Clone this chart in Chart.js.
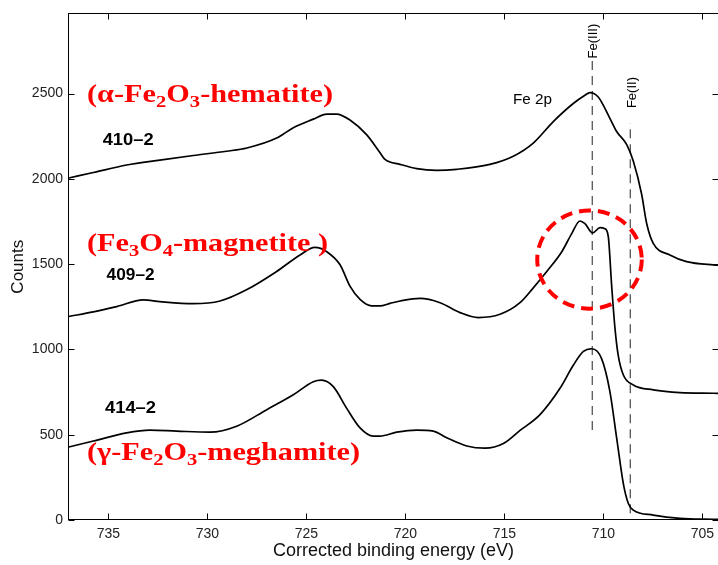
<!DOCTYPE html>
<html>
<head>
<meta charset="utf-8">
<script src="https://cdn.jsdelivr.net/npm/chart.js@4/dist/chart.umd.min.js"></script>
<style>
  html, body { margin: 0; padding: 0; overflow: hidden; background: #fff; }
  canvas { display: block; }
</style>
</head>
<body>
<canvas id="xps" width="722" height="565"></canvas>
<script>
// Fe 2p XPS spectra of three iron-oxide samples (binding energy in eV, counts)

const energyTicks = [735, 730, 725, 720, 715, 710, 705];
const countTicks = [0, 500, 1000, 1500, 2000, 2500];

// sample 410-2 : alpha-Fe2O3 (hematite)
const hematiteEnergy = [737.0, 735.76, 734.08, 732.4, 730.71, 729.03, 728.0, 726.5, 725.66, 724.65,
  723.97, 723.47, 722.8, 721.96, 721.28, 721.03, 720.27, 719.43, 718.42, 717.41, 715.73, 714.55,
  713.54, 712.53, 711.52, 710.93, 710.68, 710.26, 709.67, 709.33, 708.82, 708.49, 708.07, 707.81,
  707.48, 706.64, 705.8, 704.45, 704.1];
const hematiteCounts = [2005, 2037, 2081, 2110, 2137, 2162, 2181, 2239, 2300, 2350,
  2380, 2380, 2345, 2259, 2153, 2114, 2085, 2060, 2050, 2056, 2085, 2133,
  2210, 2336, 2442, 2490, 2506, 2480, 2355, 2278, 2201, 2104, 1911, 1737,
  1622, 1554, 1515, 1496, 1494];

// sample 409-2 : Fe3O4 (magnetite)
const magnetiteEnergy = [737.0, 735.76, 734.58, 733.24, 732.4, 730.71, 729.36, 728.0, 726.5, 725.32,
  724.57, 723.97, 723.3, 722.8, 722.29, 721.7, 721.28, 720.78, 720.27, 719.26, 718.25, 717.24,
  716.32, 715.22, 714.21, 713.54, 712.86, 712.1, 711.6, 711.18, 710.93, 710.54, 710.17, 709.92,
  709.75, 709.58, 709.41, 709.25, 708.99, 708.49, 707.48, 706.13, 704.45, 704.1];
const magnetiteCounts = [1193, 1220, 1251, 1290, 1280, 1268, 1284, 1351, 1457, 1554,
  1598, 1573, 1496, 1371, 1293, 1255, 1255, 1270, 1284, 1299, 1274, 1216,
  1187, 1206, 1274, 1361, 1457, 1573, 1679, 1753, 1737, 1683, 1714, 1708,
  1660, 1371, 1119, 965, 850, 792, 763, 747, 743, 742];

// sample 414-2 : gamma-Fe2O3 (maghemite)
const maghemiteEnergy = [737.0, 735.76, 734.08, 732.9, 731.55, 729.87, 728.52, 727.0, 725.66, 724.65,
  724.23, 723.64, 722.97, 722.29, 721.62, 721.28, 720.44, 719.43, 718.59, 717.91, 716.9, 715.98,
  715.05, 714.21, 713.2, 712.19, 711.52, 711.01, 710.59, 710.09, 709.67, 709.33, 708.99, 708.74,
  708.49, 707.48, 706.13, 704.45, 704.1];
const maghemiteCounts = [428, 463, 511, 527, 521, 515, 550, 647, 734, 811,
  820, 782, 656, 540, 492, 492, 515, 527, 521, 482, 434, 421,
  448, 525, 618, 772, 907, 988, 1004, 946, 753, 482, 212, 97,
  58, 29, 10, 4, 3];

// reference binding energies for the two iron oxidation states
const feIIIEnergy = 710.56;
const feIIICounts = [527, 2693];
const feIIEnergy = 708.64;
const feIICounts = [40, 2328];

const toPoints = (xs, ys) => xs.map((x, i) => ({ x: x, y: ys[i] }));

// text placed in data coordinates; "_n" marks a subscript character
const phaseLabels = [
  { text: '(α-Fe_2O_3-hematite)', e: 736.08, c: 2450, width: 246 },
  { text: '(Fe_3O_4-magnetite )', e: 736.08, c: 1575, width: 241 },
  { text: '(γ-Fe_2O_3-meghamite)', e: 736.08, c: 353, width: 273 }
];
const sampleLabels = [
  { text: '410–2', e: 735.29, c: 2196, width: 51 },
  { text: '409–2', e: 735.09, c: 1409, width: 48 },
  { text: '414–2', e: 735.17, c: 625, width: 51 }
];
const peakLabel = { text: 'Fe 2p', e: 714.57, c: 2436, width: 39 };
const stateLabels = [
  { text: 'Fe(III)', e: 710.5, c: 2706 },
  { text: 'Fe(II)', e: 708.55, c: 2415 }
];
const highlight = { e: 710.7, c: 1527, re: 2.64, rc: 288 };

function splitRuns(text) {
  const runs = [];
  let buf = '';
  for (let i = 0; i < text.length; i++) {
    if (text[i] === '_' && i + 1 < text.length) {
      if (buf) runs.push({ t: buf, sub: false });
      buf = '';
      runs.push({ t: text[i + 1], sub: true });
      i++;
    } else {
      buf += text[i];
    }
  }
  if (buf) runs.push({ t: buf, sub: false });
  return runs;
}

// draws a text run stretched horizontally to the requested width
function drawFitted(ctx, text, x, y, font, subFont, subShift, width, color) {
  const runs = splitRuns(text);
  let total = 0;
  runs.forEach(r => {
    ctx.font = r.sub ? subFont : font;
    r.w = ctx.measureText(r.t).width;
    total += r.w;
  });
  const sx = width ? width / total : 1;
  ctx.save();
  ctx.translate(x, y);
  ctx.scale(sx, 1);
  ctx.fillStyle = color;
  ctx.textBaseline = 'alphabetic';
  ctx.textAlign = 'left';
  let cx = 0;
  runs.forEach(r => {
    ctx.font = r.sub ? subFont : font;
    ctx.fillText(r.t, cx, r.sub ? subShift : 0);
    cx += r.w;
  });
  ctx.restore();
}

const annotations = {
  id: 'annotations',
  afterDatasetsDraw(chart) {
    const { ctx, scales: { x, y } } = chart;

    // highlighted double peak
    ctx.save();
    const cx = x.getPixelForValue(highlight.e);
    const cy = y.getPixelForValue(highlight.c);
    const rx = Math.abs(x.getPixelForValue(highlight.e + highlight.re) - cx);
    const ry = Math.abs(y.getPixelForValue(highlight.c + highlight.rc) - cy);
    ctx.strokeStyle = '#ff0000';
    ctx.lineWidth = 4;
    ctx.setLineDash([12, 7]);
    ctx.beginPath();
    ctx.ellipse(cx, cy, rx, ry, 0, 0, Math.PI * 2);
    ctx.stroke();
    ctx.restore();

    phaseLabels.forEach(l => drawFitted(ctx, l.text, x.getPixelForValue(l.e), y.getPixelForValue(l.c),
      'bold 25px "Liberation Serif"', 'bold 17px "Liberation Serif"', 5, l.width, '#ff0000'));
    sampleLabels.forEach(l => drawFitted(ctx, l.text, x.getPixelForValue(l.e), y.getPixelForValue(l.c),
      'bold 17px "Liberation Sans"', 'bold 12px "Liberation Sans"', 4, l.width, '#000'));
    drawFitted(ctx, peakLabel.text, x.getPixelForValue(peakLabel.e), y.getPixelForValue(peakLabel.c),
      '14px "Liberation Sans"', '10px "Liberation Sans"', 3, peakLabel.width, '#000');

    stateLabels.forEach(l => {
      ctx.save();
      ctx.translate(x.getPixelForValue(l.e), y.getPixelForValue(l.c));
      ctx.rotate(-Math.PI / 2);
      ctx.font = '13px "Liberation Sans"';
      ctx.fillStyle = '#000';
      ctx.textAlign = 'left';
      ctx.textBaseline = 'middle';
      ctx.fillText(l.text, 0, 0);
      ctx.restore();
    });
  },
  afterDraw(chart) {
    const { ctx, chartArea: a, scales: { x, y } } = chart;
    ctx.save();
    ctx.strokeStyle = '#000';
    ctx.lineWidth = 1;
    const L = Math.round(a.left) + 0.5, R = Math.round(a.right) - 0.5;
    const T = Math.round(a.top) + 0.5, B = Math.round(a.bottom) - 0.5;
    ctx.strokeRect(L, T, R - L, B - T);
    const len = 6;
    ctx.beginPath();
    energyTicks.forEach(v => {
      const px = Math.round(x.getPixelForValue(v)) + 0.5;
      ctx.moveTo(px, B); ctx.lineTo(px, B - len);
      ctx.moveTo(px, T); ctx.lineTo(px, T + len);
    });
    countTicks.forEach(v => {
      const py = Math.round(y.getPixelForValue(v)) + 0.5;
      ctx.moveTo(L, py); ctx.lineTo(L + len, py);
      ctx.moveTo(R, py); ctx.lineTo(R - len, py);
    });
    ctx.stroke();
    ctx.restore();
  }
};

const spectrumStyle = {
  borderColor: '#000',
  borderWidth: 1.7,
  pointRadius: 0,
  fill: false,
  cubicInterpolationMode: 'monotone'
};
const markerStyle = {
  borderColor: '#555',
  borderWidth: 1.3,
  borderDash: [9, 6],
  pointRadius: 0,
  fill: false
};

new Chart(document.getElementById('xps'), {
  type: 'line',
  data: {
    datasets: [
      Object.assign({ label: '410-2', data: toPoints(hematiteEnergy, hematiteCounts) }, spectrumStyle),
      Object.assign({ label: '409-2', data: toPoints(magnetiteEnergy, magnetiteCounts) }, spectrumStyle),
      Object.assign({ label: '414-2', data: toPoints(maghemiteEnergy, maghemiteCounts) }, spectrumStyle),
      Object.assign({ label: 'Fe(III)', data: feIIICounts.map(c => ({ x: feIIIEnergy, y: c })) }, markerStyle),
      Object.assign({ label: 'Fe(II)', data: feIICounts.map(c => ({ x: feIIEnergy, y: c })) }, markerStyle)
    ]
  },
  options: {
    responsive: false,
    animation: false,
    devicePixelRatio: 1,
    layout: { padding: { top: 7, right: 3, left: 0, bottom: 0 } },
    plugins: { legend: { display: false }, tooltip: { enabled: false } },
    scales: {
      x: {
        type: 'linear',
        reverse: true,
        min: 704.16,
        max: 737.04,
        afterBuildTicks: s => { s.ticks = energyTicks.map(v => ({ value: v })); },
        afterFit: s => { s.height = 45; },
        grid: { display: false, drawTicks: false },
        border: { display: false },
        ticks: {
          color: '#222', padding: 6, maxRotation: 0,
          font: { family: 'Liberation Sans', size: 14 },
          callback: v => String(v)
        },
        title: {
          display: true,
          text: 'Corrected binding energy (eV)',
          color: '#111',
          font: { family: 'Liberation Sans', size: 18 },
          padding: { top: 0, bottom: 3 }
        }
      },
      y: {
        min: 0,
        max: 2970,
        afterBuildTicks: s => { s.ticks = countTicks.map(v => ({ value: v })); },
        afterFit: s => { s.width = 68; },
        grid: { display: false, drawTicks: false },
        border: { display: false },
        ticks: {
          color: '#222', padding: 5,
          font: { family: 'Liberation Sans', size: 14 },
          callback: v => String(v)
        },
        title: {
          display: true,
          text: 'Counts',
          color: '#111',
          font: { family: 'Liberation Sans', size: 17 },
          padding: { top: 8, bottom: 0 }
        }
      }
    }
  },
  plugins: [annotations]
});
</script>
</body>
</html>
